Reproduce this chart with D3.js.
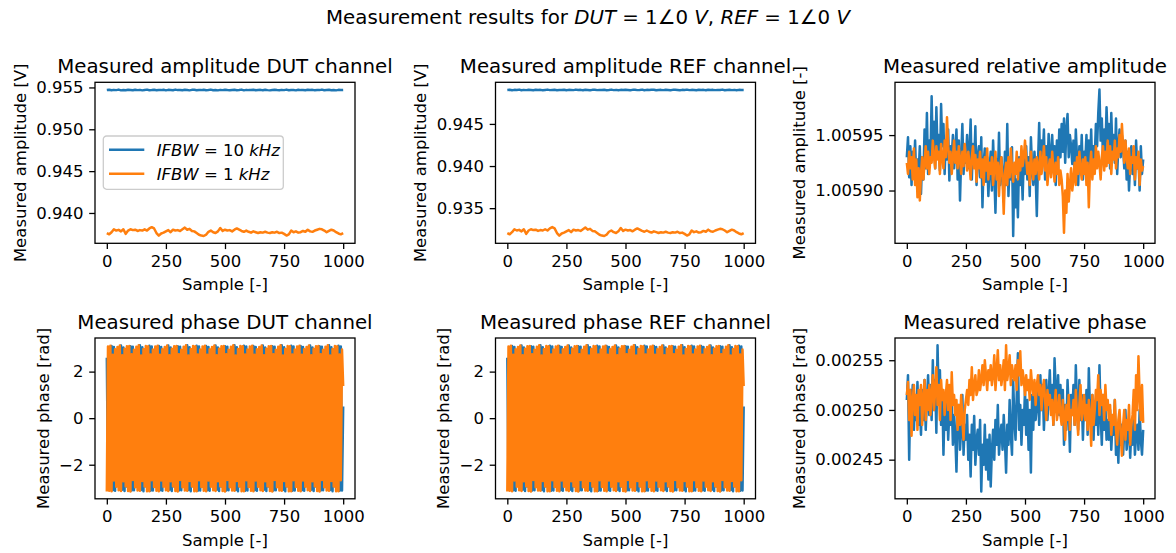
<!DOCTYPE html>
<html>
<head>
<meta charset="utf-8">
<script src="https://cdn.jsdelivr.net/npm/d3@7"></script>
<style>
  body { margin: 0; background: #fff; }
  text { white-space: pre; }
</style>
</head>
<body>
<script>
// Sample axis (x) ticks, shared by all panels
const sampleTicks = [0, 250, 500, 750, 1000];

// Measured amplitude DUT channel [V], one value every 10 samples
const ampDut10k = [
  0.95469, 0.95473, 0.95466, 0.95471, 0.95468, 0.95474, 0.95465, 0.95470, 0.95467, 0.95472,
  0.95469, 0.95466, 0.95473, 0.95468, 0.95471, 0.95465, 0.95470, 0.95474, 0.95467, 0.95469,
  0.95472, 0.95466, 0.95470, 0.95468, 0.95473, 0.95465, 0.95471, 0.95469, 0.95467, 0.95474,
  0.95468, 0.95470, 0.95466, 0.95472, 0.95469, 0.95465, 0.95471, 0.95473, 0.95467, 0.95470,
  0.95468, 0.95472, 0.95466, 0.95469, 0.95474, 0.95467, 0.95470, 0.95465, 0.95471, 0.95468,
  0.95473, 0.95469, 0.95466, 0.95470, 0.95472, 0.95467, 0.95469, 0.95474, 0.95465, 0.95471,
  0.95468, 0.95470, 0.95473, 0.95466, 0.95469, 0.95471, 0.95467, 0.95472, 0.95468, 0.95465,
  0.95470, 0.95473, 0.95469, 0.95466, 0.95471, 0.95468, 0.95474, 0.95467, 0.95470, 0.95469,
  0.95465, 0.95472, 0.95468, 0.95470, 0.95466, 0.95473, 0.95469, 0.95471, 0.95467, 0.95470,
  0.95468, 0.95474, 0.95466, 0.95469, 0.95472, 0.95467, 0.95470, 0.95465, 0.95471, 0.95469,
  0.95470
];
const ampDut1k = [
  0.93760, 0.93745, 0.93770, 0.93805, 0.93790, 0.93798, 0.93780, 0.93805, 0.93750, 0.93790,
  0.93805, 0.93795, 0.93800, 0.93785, 0.93795, 0.93790, 0.93805, 0.93790, 0.93815, 0.93830,
  0.93815, 0.93760, 0.93730, 0.93755, 0.93765, 0.93780, 0.93795, 0.93770, 0.93800, 0.93790,
  0.93795, 0.93785, 0.93805, 0.93825, 0.93800, 0.93810, 0.93785, 0.93780, 0.93760, 0.93740,
  0.93730, 0.93725, 0.93740, 0.93775, 0.93790, 0.93770, 0.93760, 0.93780, 0.93820, 0.93785,
  0.93800, 0.93790, 0.93795, 0.93780, 0.93800, 0.93815, 0.93800, 0.93785, 0.93775, 0.93790,
  0.93775, 0.93765, 0.93780, 0.93770, 0.93760, 0.93770, 0.93765, 0.93775, 0.93765, 0.93760,
  0.93770, 0.93765, 0.93775, 0.93760, 0.93765, 0.93750, 0.93730, 0.93745, 0.93790, 0.93770,
  0.93780, 0.93765, 0.93770, 0.93785, 0.93775, 0.93800, 0.93780, 0.93775, 0.93790, 0.93800,
  0.93810, 0.93805, 0.93790, 0.93770, 0.93785, 0.93800, 0.93790, 0.93770, 0.93755, 0.93745,
  0.93760
];

// Measured amplitude REF channel [V], one value every 10 samples
const ampRef10k = [
  0.94903, 0.94906, 0.94900, 0.94904, 0.94902, 0.94907, 0.94899, 0.94904, 0.94901, 0.94905,
  0.94903, 0.94900, 0.94906, 0.94902, 0.94904, 0.94899, 0.94903, 0.94907, 0.94901, 0.94903,
  0.94905, 0.94900, 0.94903, 0.94902, 0.94906, 0.94899, 0.94904, 0.94903, 0.94901, 0.94907,
  0.94902, 0.94904, 0.94900, 0.94905, 0.94903, 0.94899, 0.94904, 0.94906, 0.94901, 0.94903,
  0.94902, 0.94905, 0.94900, 0.94903, 0.94907, 0.94901, 0.94904, 0.94899, 0.94904, 0.94902,
  0.94906, 0.94903, 0.94900, 0.94904, 0.94905, 0.94901, 0.94903, 0.94907, 0.94899, 0.94904,
  0.94902, 0.94904, 0.94906, 0.94900, 0.94903, 0.94904, 0.94901, 0.94905, 0.94902, 0.94899,
  0.94904, 0.94906, 0.94903, 0.94900, 0.94904, 0.94902, 0.94907, 0.94901, 0.94904, 0.94903,
  0.94899, 0.94905, 0.94902, 0.94904, 0.94900, 0.94906, 0.94903, 0.94904, 0.94901, 0.94903,
  0.94902, 0.94907, 0.94900, 0.94903, 0.94905, 0.94901, 0.94904, 0.94899, 0.94904, 0.94903,
  0.94903
];
const ampRef1k = [
  0.93205, 0.93190, 0.93215, 0.93250, 0.93235, 0.93243, 0.93225, 0.93250, 0.93195, 0.93235,
  0.93250, 0.93240, 0.93245, 0.93230, 0.93240, 0.93235, 0.93250, 0.93235, 0.93260, 0.93275,
  0.93260, 0.93205, 0.93175, 0.93200, 0.93210, 0.93225, 0.93240, 0.93215, 0.93245, 0.93235,
  0.93240, 0.93230, 0.93250, 0.93270, 0.93245, 0.93255, 0.93230, 0.93225, 0.93205, 0.93185,
  0.93175, 0.93170, 0.93185, 0.93220, 0.93235, 0.93215, 0.93205, 0.93225, 0.93265, 0.93230,
  0.93245, 0.93235, 0.93240, 0.93225, 0.93245, 0.93260, 0.93245, 0.93230, 0.93220, 0.93235,
  0.93220, 0.93210, 0.93225, 0.93215, 0.93205, 0.93215, 0.93210, 0.93220, 0.93210, 0.93205,
  0.93215, 0.93210, 0.93220, 0.93205, 0.93210, 0.93195, 0.93175, 0.93190, 0.93235, 0.93215,
  0.93225, 0.93210, 0.93215, 0.93230, 0.93220, 0.93245, 0.93225, 0.93220, 0.93235, 0.93245,
  0.93255, 0.93250, 0.93235, 0.93215, 0.93230, 0.93245, 0.93235, 0.93215, 0.93200, 0.93190,
  0.93205
];

// Measured relative amplitude, in millionths above 1.0059, one value every 5 samples
const relAmpBase = 1.0059;
const relAmp10k = [
  30, 48, 12, 40, 5, 35, 18, 45, 8, 28, 15,
  40, -3, 30, 10, 55, 20, 70, 15, 45, 25,
  85, 30, 62, 20, 75, 35, 50, 18, 78, 40,
  60, 15, 45, 28, 55, 9, 40, 30, 50, 20,
  35, 55, 10, 45, -9, 30, 60, 15, 40, 25,
  50, 20, 35, 64, 10, 42, 22, 58, 5, 30,
  40, 12, 48, -15, 25, 38, 8, 30, -5, 20,
  35, 0, 45, 15, -20, 28, 10, 52, 5, 30,
  15, -10, 35, 5, 60, -5, 25, 10, 39, -41,
  20, -15, 10, -24, 30, 5, 25, -8, 35, 15,
  40, 10, 30, -5, 48, 20, 5, 35, 15, -23,
  25, 61, 15, 45, 30, 55, 10, 40, 20, 51,
  35, 15, 50, 25, 40, 5, 45, 20, 55, 30,
  60, 35, 65, 25, 55, 69, 30, 50, 40, 24,
  45, 15, 55, 30, 5, 40, 20, 50, 10, 35,
  25, 50, 5, 45, 20, 55, 15, 40, 30, 60,
  40, 70, 91, 45, 65, 30, 55, 35, 75, 45,
  60, 20, 70, 35, 50, 25, 65, 15, 40, 55,
  30, 50, 40, 20, 45, 10, 35, 0, 25, 40,
  15, 35, 5, 45, 20, 30, 0, 40, 15, 28
];
const relAmp1k = [
  25, 15, 35, 20, 30, 10, 38, 5, 28, -6, 20,
  -9, 15, 30, 10, 25, 40, 20, 35, 15, 30,
  25, 45, 30, 20, 40, 28, 35, 15, 42, 30,
  20, 45, 30, 66, 40, 25, 35, 15, 30, 45,
  25, 35, 20, 40, 28, 15, 35, 22, 42, 30,
  18, 35, 25, 10, 30, 40, 20, 32, 8, 28,
  20, 35, 12, 28, 5, 30, 18, 38, 10, 25,
  15, 30, 5, 20, 35, 10, 25, -5, 20, 30,
  10, -21, 15, 25, 5, 30, 12, 38, 20, 8,
  25, 15, 35, 10, 28, 18, 40, 22, 30, 45,
  30, 15, 25, 5, 35, 20, 10, 28, 15, 30,
  22, 10, 35, 15, 25, 40, 18, 30, 5, 20,
  28, 12, 35, 20, 8, 25, 15, 30, 5, 18,
  10, -5, -38, 0, -20, 15, -10, 5, 20, 0,
  10, 25, 5, 30, 15, 35, 20, 10, 28, 15,
  30, 5, 25, -15, 20, 35, 10, 28, 15, 40,
  20, 35, 25, 10, 30, 40, 18, 35, 22, 45,
  25, 40, 15, 35, 28, 45, 20, 38, 30, 50,
  35, 60, 40, 25, 45, 30, 20, 38, 15, 30,
  25, 40, 10, 30, 20, 35, 5, 28, 18, 22
];

// Measured phase DUT channel [rad], one value every 5 samples
const phaseDut10k = [
  2.60,
  -2.92, 2.88, -2.95, 3.10, -3.10, 3.06, -3.12, 2.85,
  -2.90, 2.86, -2.97, 3.12, -3.08, 3.04, -3.13, 2.87,
  -2.94, 2.89, -2.93, 3.09, -3.11, 3.07, -3.10, 2.84,
  -2.91, 2.87, -2.96, 3.13, -3.09, 3.05, -3.14, 2.86,
  -2.93, 2.85, -2.94, 3.11, -3.12, 3.08, -3.11, 2.88,
  -2.92, 2.88, -2.95, 3.10, -3.10, 3.06, -3.12, 2.85,
  -2.90, 2.86, -2.97, 3.12, -3.08, 3.04, -3.13, 2.87,
  -2.94, 2.89, -2.93, 3.09, -3.11, 3.07, -3.10, 2.84,
  -2.91, 2.87, -2.96, 3.13, -3.09, 3.05, -3.14, 2.86,
  -2.93, 2.85, -2.94, 3.11, -3.12, 3.08, -3.11, 2.88,
  -2.92, 2.88, -2.95, 3.10, -3.10, 3.06, -3.12, 2.85,
  -2.90, 2.86, -2.97, 3.12, -3.08, 3.04, -3.13, 2.87,
  -2.94, 2.89, -2.93, 3.09, -3.11, 3.07, -3.10, 2.84,
  -2.91, 2.87, -2.96, 3.13, -3.09, 3.05, -3.14, 2.86,
  -2.93, 2.85, -2.94, 3.11, -3.12, 3.08, -3.11, 2.88,
  -2.92, 2.88, -2.95, 3.10, -3.10, 3.06, -3.12, 2.85,
  -2.90, 2.86, -2.97, 3.12, -3.08, 3.04, -3.13, 2.87,
  -2.94, 2.89, -2.93, 3.09, -3.11, 3.07, -3.10, 2.84,
  -2.91, 2.87, -2.96, 3.13, -3.09, 3.05, -3.14, 2.86,
  -2.93, 2.85, -2.94, 3.11, -3.12, 3.08, -3.11, 2.88,
  -2.92, 2.88, -2.95, 3.10, -3.10, 3.06, -3.12, 2.85,
  -2.90, 2.86, -2.97, 3.12, -3.08, 3.04, -3.13, 2.87,
  -2.94, 2.89, -2.93, 3.09, -3.11, 3.07, -3.10, 2.84,
  -2.91, 2.87, -2.96, 3.13, -3.09, 3.05, -3.14, 2.86,
  -2.93, 2.85, -2.94, 3.11, -3.12, 3.08, -3.11, 0.50
];
const phaseDut1k = [
  -3.15,
  3.08, -3.12, 3.11, -3.14, 2.72, -2.68, 2.96, -2.95,
  3.06, -3.10, 3.12, -3.13, 2.70, -2.71, 2.98, -2.93,
  3.09, -3.13, 3.10, -3.15, 2.75, -2.66, 2.94, -2.97,
  3.07, -3.11, 3.13, -3.12, 2.69, -2.70, 2.97, -2.94,
  3.10, -3.14, 3.09, -3.14, 2.73, -2.67, 2.95, -2.96,
  3.08, -3.12, 3.11, -3.14, 2.72, -2.68, 2.96, -2.95,
  3.06, -3.10, 3.12, -3.13, 2.70, -2.71, 2.98, -2.93,
  3.09, -3.13, 3.10, -3.15, 2.75, -2.66, 2.94, -2.97,
  3.07, -3.11, 3.13, -3.12, 2.69, -2.70, 2.97, -2.94,
  3.10, -3.14, 3.09, -3.14, 2.73, -2.67, 2.95, -2.96,
  3.08, -3.12, 3.11, -3.14, 2.72, -2.68, 2.96, -2.95,
  3.06, -3.10, 3.12, -3.13, 2.70, -2.71, 2.98, -2.93,
  3.09, -3.13, 3.10, -3.15, 2.75, -2.66, 2.94, -2.97,
  3.07, -3.11, 3.13, -3.12, 2.69, -2.70, 2.97, -2.94,
  3.10, -3.14, 3.09, -3.14, 2.73, -2.67, 2.95, -2.96,
  3.08, -3.12, 3.11, -3.14, 2.72, -2.68, 2.96, -2.95,
  3.06, -3.10, 3.12, -3.13, 2.70, -2.71, 2.98, -2.93,
  3.09, -3.13, 3.10, -3.15, 2.75, -2.66, 2.94, -2.97,
  3.07, -3.11, 3.13, -3.12, 2.69, -2.70, 2.97, -2.94,
  3.10, -3.14, 3.09, -3.14, 2.73, -2.67, 2.95, -2.96,
  3.08, -3.12, 3.11, -3.14, 2.72, -2.68, 2.96, -2.95,
  3.06, -3.10, 3.12, -3.13, 2.70, -2.71, 2.98, -2.93,
  3.09, -3.13, 3.10, -3.15, 2.75, -2.66, 2.94, -2.97,
  3.07, -3.11, 3.13, -3.12, 2.69, -2.70, 2.97, -2.94,
  3.10, -3.14, 3.09, -3.14, 2.73, -2.67, 2.95, 1.38
];

// Measured phase REF channel [rad], one value every 5 samples
const phaseRef10k = [
  2.60,
  -2.92, 2.88, -2.95, 3.10, -3.10, 3.06, -3.12, 2.85,
  -2.90, 2.86, -2.97, 3.12, -3.08, 3.04, -3.13, 2.87,
  -2.94, 2.89, -2.93, 3.09, -3.11, 3.07, -3.10, 2.84,
  -2.91, 2.87, -2.96, 3.13, -3.09, 3.05, -3.14, 2.86,
  -2.93, 2.85, -2.94, 3.11, -3.12, 3.08, -3.11, 2.88,
  -2.92, 2.88, -2.95, 3.10, -3.10, 3.06, -3.12, 2.85,
  -2.90, 2.86, -2.97, 3.12, -3.08, 3.04, -3.13, 2.87,
  -2.94, 2.89, -2.93, 3.09, -3.11, 3.07, -3.10, 2.84,
  -2.91, 2.87, -2.96, 3.13, -3.09, 3.05, -3.14, 2.86,
  -2.93, 2.85, -2.94, 3.11, -3.12, 3.08, -3.11, 2.88,
  -2.92, 2.88, -2.95, 3.10, -3.10, 3.06, -3.12, 2.85,
  -2.90, 2.86, -2.97, 3.12, -3.08, 3.04, -3.13, 2.87,
  -2.94, 2.89, -2.93, 3.09, -3.11, 3.07, -3.10, 2.84,
  -2.91, 2.87, -2.96, 3.13, -3.09, 3.05, -3.14, 2.86,
  -2.93, 2.85, -2.94, 3.11, -3.12, 3.08, -3.11, 2.88,
  -2.92, 2.88, -2.95, 3.10, -3.10, 3.06, -3.12, 2.85,
  -2.90, 2.86, -2.97, 3.12, -3.08, 3.04, -3.13, 2.87,
  -2.94, 2.89, -2.93, 3.09, -3.11, 3.07, -3.10, 2.84,
  -2.91, 2.87, -2.96, 3.13, -3.09, 3.05, -3.14, 2.86,
  -2.93, 2.85, -2.94, 3.11, -3.12, 3.08, -3.11, 2.88,
  -2.92, 2.88, -2.95, 3.10, -3.10, 3.06, -3.12, 2.85,
  -2.90, 2.86, -2.97, 3.12, -3.08, 3.04, -3.13, 2.87,
  -2.94, 2.89, -2.93, 3.09, -3.11, 3.07, -3.10, 2.84,
  -2.91, 2.87, -2.96, 3.13, -3.09, 3.05, -3.14, 2.86,
  -2.93, 2.85, -2.94, 3.11, -3.12, 3.08, -3.11, 0.50
];
const phaseRef1k = [
  -3.15,
  3.08, -3.12, 3.11, -3.14, 2.72, -2.68, 2.96, -2.95,
  3.06, -3.10, 3.12, -3.13, 2.70, -2.71, 2.98, -2.93,
  3.09, -3.13, 3.10, -3.15, 2.75, -2.66, 2.94, -2.97,
  3.07, -3.11, 3.13, -3.12, 2.69, -2.70, 2.97, -2.94,
  3.10, -3.14, 3.09, -3.14, 2.73, -2.67, 2.95, -2.96,
  3.08, -3.12, 3.11, -3.14, 2.72, -2.68, 2.96, -2.95,
  3.06, -3.10, 3.12, -3.13, 2.70, -2.71, 2.98, -2.93,
  3.09, -3.13, 3.10, -3.15, 2.75, -2.66, 2.94, -2.97,
  3.07, -3.11, 3.13, -3.12, 2.69, -2.70, 2.97, -2.94,
  3.10, -3.14, 3.09, -3.14, 2.73, -2.67, 2.95, -2.96,
  3.08, -3.12, 3.11, -3.14, 2.72, -2.68, 2.96, -2.95,
  3.06, -3.10, 3.12, -3.13, 2.70, -2.71, 2.98, -2.93,
  3.09, -3.13, 3.10, -3.15, 2.75, -2.66, 2.94, -2.97,
  3.07, -3.11, 3.13, -3.12, 2.69, -2.70, 2.97, -2.94,
  3.10, -3.14, 3.09, -3.14, 2.73, -2.67, 2.95, -2.96,
  3.08, -3.12, 3.11, -3.14, 2.72, -2.68, 2.96, -2.95,
  3.06, -3.10, 3.12, -3.13, 2.70, -2.71, 2.98, -2.93,
  3.09, -3.13, 3.10, -3.15, 2.75, -2.66, 2.94, -2.97,
  3.07, -3.11, 3.13, -3.12, 2.69, -2.70, 2.97, -2.94,
  3.10, -3.14, 3.09, -3.14, 2.73, -2.67, 2.95, -2.96,
  3.08, -3.12, 3.11, -3.14, 2.72, -2.68, 2.96, -2.95,
  3.06, -3.10, 3.12, -3.13, 2.70, -2.71, 2.98, -2.93,
  3.09, -3.13, 3.10, -3.15, 2.75, -2.66, 2.94, -2.97,
  3.07, -3.11, 3.13, -3.12, 2.69, -2.70, 2.97, -2.94,
  3.10, -3.14, 3.09, -3.14, 2.73, -2.67, 2.95, 1.38
];

// Measured relative phase, in millionths of a rad above 0.0025, one value every 5 samples
const relPhaseBase = 0.0025;
const relPhase10k = [
  10, 35, -50, 20, -5, 25, -20, 15, -10, 28, -15,
  5, -25, 20, -10, 30, -20, 10, 35, -5, 25,
  -10, 50, 0, 30, -23, 65, 10, 40, -15, 20,
  -45, 5, -20, 15, -30, 0, -15, 10, -35, -5,
  -25, -62, -10, 5, -40, -20, 15, -45, -15, -30,
  -5, -50, -25, -67, -15, -40, -6, -55, -30, -20,
  -45, -10, -82, -35, -55, -15, -60, -30, -70, -25,
  -77, -40, -20, -50, -10, -35, 5, -45, -25, -15,
  -40, -5, -30, -63, -15, -35, 10, -25, -45, 30,
  -10, -30, 15, 57, -20, 5, -35, 0, -15, 20,
  -25, 10, -40, 0, -63, 15, -20, 25, -10, 5,
  20, -15, 35, 0, 25, -20, 10, 30, -10, 15,
  40, 0, 25, -15, 52, 20, 5, 35, -5, 25,
  -10, 20, -35, 5, -20, 30, 0, -42, 15, -5,
  25, -15, 45, 5, -20, 30, -10, 15, -30, 10,
  -10, 20, -25, 42, 0, -20, 15, -30, 5, -15,
  10, -25, 45, -5, -35, 15, -20, 5, -30, -10,
  -30, 0, -40, -15, -25, 10, -45, -20, -53, -5,
  -35, -15, -45, -20, 0, -40, -25, -10, -48, -20,
  -35, -5, -45, -25, -15, -40, 0, -30, -45, -20
];
const relPhase1k = [
  15, 28, -10, 20, -26, 10, 25, -5, 15, -20, 20,
  5, 25, -15, 10, 30, -10, 20, 0, 25, -5,
  15, 35, 0, 20, 43, 5, 25, -10, 30, 10,
  20, -5, 15, 30, 0, 25, -10, 38, 5, 15,
  -5, 10, -20, 5, -15, 15, -10, -30, 0, 10,
  20, 5, 30, 15, 43, 10, 25, 35, 15, 20,
  40, 20, 30, 45, 25, 50, 35, 20, 40, 30,
  45, 25, 35, 55, 20, 40, 60, 30, 45, 25,
  35, 50, 20, 65, 30, 40, 55, 25, 45, 35,
  30, 45, 20, 50, 35, 59, 25, 40, 30, 15,
  35, 20, 30, 10, 40, 25, 15, 30, 5, 25,
  35, 15, 25, 0, 20, 30, 10, -10, 20, 5,
  15, -5, 10, -15, 5, 20, -10, 0, 15, -5,
  -15, 10, -5, -30, 5, -10, 15, -20, 0, -5,
  10, -15, 20, -5, -25, 5, 25, -10, 0, 15,
  -10, 5, -20, 10, -5, -36, 15, -15, 0, 20,
  10, 35, -5, 20, 5, 15, -10, 25, 0, 10,
  -10, 5, -25, -5, -15, 10, -20, -35, -10, 0,
  -25, -46, -15, 0, -30, -10, -20, 5, -35, -15,
  -5, 20, -20, 35, 0, 54, 15, -10, 25, -13
];

// Y tick values per panel
const ticksAmpDut = [0.940, 0.945, 0.950, 0.955];
const ticksAmpRef = [0.935, 0.940, 0.945];
const ticksRelAmp = [1.00590, 1.00595];
const ticksPhase = [-2, 0, 2];
const ticksRelPhase = [0.00245, 0.00250, 0.00255];

const legendLabels = [['IFBW', ' = 10 ', 'kHz'], ['IFBW', ' = 1 ', 'kHz']];

const blue = '#1f77b4';
const orange = '#ff7f0e';
const fontSize = 16.5;
const titleSize = 19.8;
const tickLen = 5.8;
const tickPad = 5.8;
const lineWidth = 2.5;

const svg = d3.select('body').append('svg')
  .attr('width', 1176)
  .attr('height', 553)
  .style('font-family', '"DejaVu Sans", sans-serif');

// Figure title, mixing upright and italic runs like mathtext
const supTitle = svg.append('text')
  .attr('x', 588).attr('y', 24)
  .attr('text-anchor', 'middle')
  .attr('font-size', titleSize);
[['Measurement results for ', false], ['DUT', true], [' = 1∠0 ', false], ['V', true],
 [', ', false], ['REF', true], [' = 1∠0 ', false], ['V', true]]
  .forEach(([s, it]) => supTitle.append('tspan').text(s).attr('font-style', it ? 'italic' : null));

const colLeft = [95, 495.5, 895];
const colWidth = 260;
const rowTop = [82.3, 338];
const rowBottom = [243.3, 498.8];

/**
 * Draw one subplot: lines, frame, ticks, titles
 */
function drawPanel(col, row, cfg, id) {
  const left = colLeft[col], right = left + colWidth;
  const top = rowTop[row], bottom = rowBottom[row];

  const x = d3.scaleLinear().domain([-50, 1050]).range([left, right]);
  const all = cfg.series.flatMap(s => s.values);
  const [lo, hi] = d3.extent(all);
  const margin = (hi - lo) * 0.05;
  const y = d3.scaleLinear().domain([lo - margin, hi + margin]).range([bottom, top]);

  const g = svg.append('g');

  g.append('clipPath').attr('id', 'clip' + id)
    .append('rect')
    .attr('x', left).attr('y', top)
    .attr('width', right - left).attr('height', bottom - top);

  const lines = g.append('g').attr('clip-path', `url(#clip${id})`);
  cfg.series.forEach(s => {
    const step = 1000 / (s.values.length - 1);
    const line = d3.line().x((d, i) => x(i * step)).y(d => y(d));
    lines.append('path')
      .datum(s.values)
      .attr('d', line)
      .attr('fill', 'none')
      .attr('stroke', s.color)
      .attr('stroke-width', lineWidth)
      .attr('stroke-linejoin', 'round');
  });

  // Axes
  const xAxis = g.append('g')
    .attr('transform', `translate(0,${bottom})`)
    .call(d3.axisBottom(x).tickValues(sampleTicks).tickSize(tickLen).tickPadding(tickPad).tickFormat(d3.format('d')));
  const yAxis = g.append('g')
    .attr('transform', `translate(${left},0)`)
    .call(d3.axisLeft(y).tickValues(cfg.yTicks).tickSize(tickLen).tickPadding(tickPad).tickFormat(d3.format(cfg.yFormat)));

  [xAxis, yAxis].forEach(a => {
    a.attr('font-family', null).attr('font-size', fontSize);
    a.select('.domain').remove();
    a.selectAll('.tick line').attr('stroke', '#000').attr('stroke-width', 1.3);
    a.selectAll('.tick text').attr('fill', '#000');
  });

  // Frame (spines)
  g.append('rect')
    .attr('x', left).attr('y', top)
    .attr('width', right - left).attr('height', bottom - top)
    .attr('fill', 'none')
    .attr('stroke', '#000')
    .attr('stroke-width', 1.3);

  // Title
  g.append('text')
    .attr('x', (left + right) / 2).attr('y', top - 9.5)
    .attr('text-anchor', 'middle')
    .attr('font-size', titleSize)
    .text(cfg.title);

  // X label
  g.append('text')
    .attr('x', (left + right) / 2).attr('y', bottom + 47)
    .attr('text-anchor', 'middle')
    .attr('font-size', fontSize)
    .text('Sample [-]');

  // Y label, placed left of the widest tick label
  let tickLeft = left;
  yAxis.selectAll('.tick text').each(function() {
    tickLeft = Math.min(tickLeft, this.getBBox().x + left);
  });
  const labelX = tickLeft - 6.6 - 3.9;
  g.append('text')
    .attr('transform', `translate(${labelX},${(top + bottom) / 2}) rotate(-90)`)
    .attr('text-anchor', 'middle')
    .attr('font-size', fontSize)
    .text(cfg.yLabel);

  return {left, top};
}

const toRelAmp = v => relAmpBase + v * 1e-6;
const toRelPhase = v => relPhaseBase + v * 1e-6;

const p1 = drawPanel(0, 0, {
  title: 'Measured amplitude DUT channel', yLabel: 'Measured amplitude [V]',
  yTicks: ticksAmpDut, yFormat: '.3f',
  series: [{values: ampDut10k, color: blue}, {values: ampDut1k, color: orange}]
}, 1);
drawPanel(1, 0, {
  title: 'Measured amplitude REF channel', yLabel: 'Measured amplitude [V]',
  yTicks: ticksAmpRef, yFormat: '.3f',
  series: [{values: ampRef10k, color: blue}, {values: ampRef1k, color: orange}]
}, 2);
drawPanel(2, 0, {
  title: 'Measured relative amplitude', yLabel: 'Measured amplitude [-]',
  yTicks: ticksRelAmp, yFormat: '.5f',
  series: [{values: relAmp10k.map(toRelAmp), color: blue}, {values: relAmp1k.map(toRelAmp), color: orange}]
}, 3);
drawPanel(0, 1, {
  title: 'Measured phase DUT channel', yLabel: 'Measured phase [rad]',
  yTicks: ticksPhase, yFormat: 'd',
  series: [{values: phaseDut10k, color: blue}, {values: phaseDut1k, color: orange}]
}, 4);
drawPanel(1, 1, {
  title: 'Measured phase REF channel', yLabel: 'Measured phase [rad]',
  yTicks: ticksPhase, yFormat: 'd',
  series: [{values: phaseRef10k, color: blue}, {values: phaseRef1k, color: orange}]
}, 5);
drawPanel(2, 1, {
  title: 'Measured relative phase', yLabel: 'Measured phase [rad]',
  yTicks: ticksRelPhase, yFormat: '.5f',
  series: [{values: relPhase10k.map(toRelPhase), color: blue}, {values: relPhase1k.map(toRelPhase), color: orange}]
}, 6);

// Legend in the DUT amplitude panel
const legend = svg.append('g').attr('transform', `translate(${p1.left + 8.3},${p1.top + 53.7})`);
legend.append('rect')
  .attr('width', 180).attr('height', 53.3)
  .attr('rx', 3.3)
  .attr('fill', '#fff').attr('fill-opacity', 0.8)
  .attr('stroke', '#cccccc').attr('stroke-width', 1.3);
[blue, orange].forEach((c, i) => {
  const cy = 13.7 + i * 24;
  legend.append('line')
    .attr('x1', 5.7).attr('x2', 41).attr('y1', cy).attr('y2', cy)
    .attr('stroke', c).attr('stroke-width', lineWidth);
  const t = legend.append('text')
    .attr('x', 53.4).attr('y', cy + 6)
    .attr('font-size', fontSize);
  const [a, b, u] = legendLabels[i];
  t.append('tspan').attr('font-style', 'italic').text(a);
  t.append('tspan').text(b);
  t.append('tspan').attr('font-style', 'italic').text(u);
});
</script>
</body>
</html>
